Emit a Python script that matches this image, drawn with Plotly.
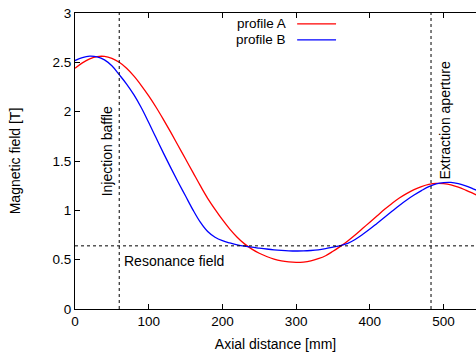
import plotly.graph_objects as go

# Axial positions [mm]
xs = [0, 10, 20, 30, 40, 50, 60, 70, 80, 90, 100, 110, 120, 130, 140, 150, 160, 170, 180,
      190, 200, 210, 220, 230, 240, 250, 260, 270, 280, 290, 300, 310, 320, 330, 340, 350,
      360, 370, 380, 390, 400, 410, 420, 430, 440, 450, 460, 470, 480, 490, 500, 510, 520,
      530, 540, 545]

# Profile A (red)
ya = [2.44, 2.495, 2.535, 2.558, 2.56, 2.54, 2.50, 2.44, 2.36, 2.265, 2.16, 2.045, 1.92,
      1.79, 1.655, 1.52, 1.385, 1.25, 1.122, 1.01, 0.905, 0.81, 0.728, 0.66, 0.607, 0.565,
      0.532, 0.505, 0.487, 0.477, 0.473, 0.476, 0.488, 0.51, 0.54, 0.585, 0.635, 0.69,
      0.75, 0.815, 0.88, 0.945, 1.01, 1.07, 1.125, 1.17, 1.21, 1.24, 1.262, 1.273, 1.27,
      1.258, 1.235, 1.205, 1.172, 1.155]

# Profile B (blue)
yb = [2.518, 2.548, 2.562, 2.555, 2.525, 2.465, 2.375, 2.28, 2.17, 2.04, 1.89, 1.735, 1.58,
      1.43, 1.285, 1.145, 1.005, 0.88, 0.785, 0.727, 0.692, 0.669, 0.651, 0.637, 0.626,
      0.617, 0.608, 0.6, 0.594, 0.59, 0.588, 0.589, 0.593, 0.6, 0.612, 0.627, 0.642, 0.665,
      0.705, 0.755, 0.81, 0.87, 0.93, 0.99, 1.05, 1.105, 1.155, 1.2, 1.24, 1.267, 1.281,
      1.283, 1.27, 1.248, 1.218, 1.203]

injection_x = 60
extraction_x = 483
resonance_y = 0.64

x_ticks = [0, 100, 200, 300, 400, 500]
y_ticks = [0, 0.5, 1, 1.5, 2, 2.5, 3]

FONT = "Liberation Sans, Arial, sans-serif"

fig = go.Figure()
fig.add_trace(go.Scatter(x=xs, y=ya, mode="lines", name="profile A",
                         line=dict(color="#ff0000", width=1.3, shape="spline"),
                         showlegend=False))
fig.add_trace(go.Scatter(x=xs, y=yb, mode="lines", name="profile B",
                         line=dict(color="#0000ff", width=1.3, shape="spline"),
                         showlegend=False))

dash = "3px,3px"
fig.add_shape(type="line", xref="x", yref="y", x0=injection_x, x1=injection_x, y0=0, y1=3,
              line=dict(color="black", width=1, dash=dash))
fig.add_shape(type="line", xref="x", yref="y", x0=extraction_x, x1=extraction_x, y0=0, y1=3,
              line=dict(color="black", width=1, dash=dash))
fig.add_shape(type="line", xref="paper", yref="y", x0=0, x1=1, y0=resonance_y, y1=resonance_y,
              line=dict(color="black", width=1, dash=dash))

fig.add_annotation(x=injection_x, y=1.60, text="Injection baffle", textangle=-90,
                   showarrow=False, xanchor="right", yanchor="middle", xshift=-2,
                   font=dict(family=FONT, size=14, color="black"))
fig.add_annotation(x=extraction_x, y=1.91, text="Extraction aperture", textangle=-90,
                   showarrow=False, xanchor="left", yanchor="middle", xshift=4,
                   font=dict(family=FONT, size=14, color="black"))
fig.add_annotation(x=injection_x, y=resonance_y, text="Resonance field",
                   showarrow=False, xanchor="left", yanchor="top", xshift=3, yshift=-5,
                   font=dict(family=FONT, size=14, color="black"))

# gnuplot-style legend: text then sample line
legend_rows = [("profile A", "#ff0000", 0.963), ("profile B", "#0000ff", 0.909)]
for name, col, yp in legend_rows:
    fig.add_annotation(xref="paper", yref="paper", x=0.532, y=yp, text=name,
                       showarrow=False, xanchor="right", yanchor="middle",
                       font=dict(family=FONT, size=13.5, color="black"))
    fig.add_shape(type="line", xref="paper", yref="paper", x0=0.554, x1=0.651, y0=yp, y1=yp,
                  line=dict(color=col, width=1.3))

fig.update_layout(
    width=476, height=359,
    margin=dict(l=75, r=0, t=13, b=50),
    paper_bgcolor="white", plot_bgcolor="white",
    font=dict(family=FONT, size=13, color="black"),
)
fig.update_xaxes(range=[0, 544], tickvals=x_ticks, ticks="inside", ticklen=5,
                 tickcolor="black", showline=True, linecolor="black", linewidth=1,
                 mirror="ticks", showgrid=False, zeroline=False,
                 title=dict(text="Axial distance [mm]", standoff=10,
                            font=dict(family=FONT, size=14)),
                 tickfont=dict(family=FONT, size=13.5))
fig.update_yaxes(range=[0, 3], tickvals=y_ticks, ticks="inside", ticklen=5,
                 tickcolor="black", showline=True, linecolor="black", linewidth=1,
                 showgrid=False, zeroline=False,
                 title=dict(text="Magnetic field [T]", standoff=28,
                            font=dict(family=FONT, size=14)),
                 tickfont=dict(family=FONT, size=13.5))

fig.write_html("out.html")
